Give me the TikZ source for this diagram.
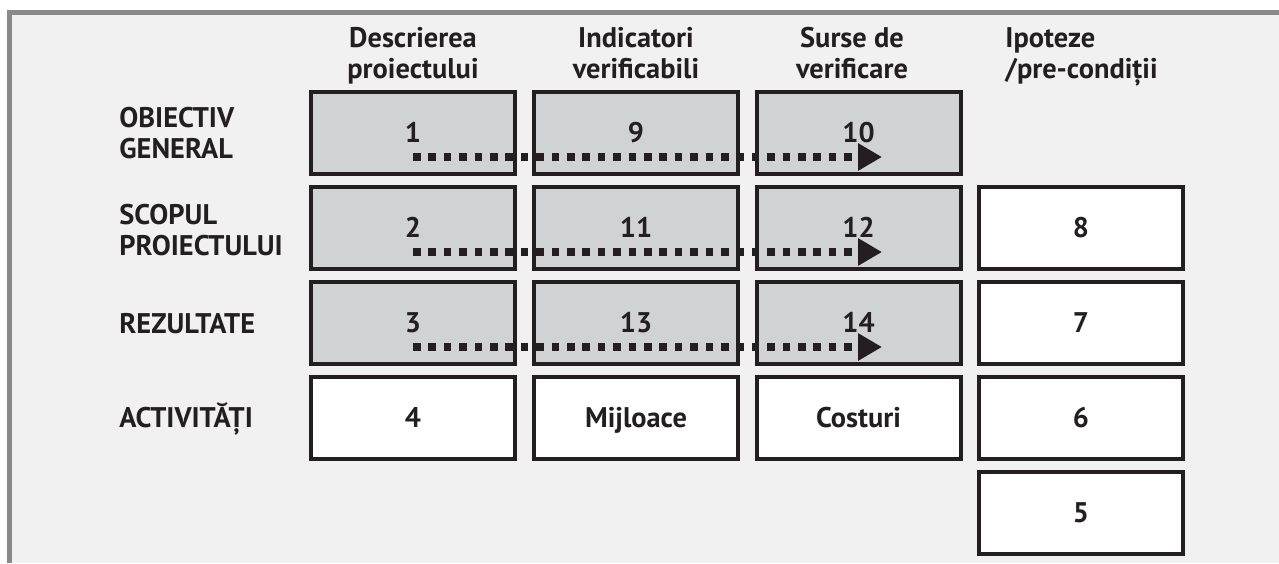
\documentclass[tikz,border=0pt]{standalone}
\usepackage{fontspec}
\setmainfont{PT Sans}
\usetikzlibrary{arrows.meta}
\definecolor{ink}{HTML}{231F20}
\definecolor{cellgray}{HTML}{D1D2D4}
\definecolor{panel}{HTML}{F1F1F1}
\definecolor{rim}{HTML}{898989}
\newcommand{\lfafont}{\fontsize{14.2}{15.5}\selectfont\bfseries}

\begin{document}
\begin{tikzpicture}[x=0.5pt,y=-0.5pt,
        cell/.style={draw=ink,line width=2pt,minimum width=102pt,minimum height=41pt,inner sep=0pt,
            text=ink,font=\lfafont,text height=9.9pt,text depth=0pt},
        graycell/.style={cell,fill=cellgray},
        whitecell/.style={cell,fill=white},
        rowlabel/.style={align=left,text=ink,inner sep=0pt,font=\lfafont},
        head/.style={anchor=north,text=ink,inner sep=0pt,font=\lfafont},
        flow/.style={ink,line width=3.8pt,dash pattern=on 3.8pt off 3.9pt,-{Triangle[length=12pt,width=13pt]}}]
        \useasboundingbox (0,0) rectangle (1279,563);
        % background panel
        \fill[white] (0,0) rectangle (1279,563);
        \fill[panel] (9.5,12.5) rectangle (1279,563);
        \draw[rim,line width=2.5pt] (9.5,563) -- (9.5,12.5) -- (1279,12.5);
        % column heads
        \node[head,align=center] (hdesc) at (413,27) {Descrierea\\proiectului};
        \node[head,align=center] (hind) at (636,27) {Indicatori\\verificabili};
        \node[head,align=center] (hsrc) at (852,27) {Surse de\\verificare};
        \node[head,align=left,anchor=north west] (hipo) at (1005,27) {Ipoteze\\/pre-condiții};
        % row labels
        \node[rowlabel,anchor=north west] (robj) at (119,107) {OBIECTIV\\GENERAL};
        \node[rowlabel,anchor=north west] (rscop) at (119,204) {SCOPUL\\PROIECTULUI};
        \node[rowlabel,anchor=base west] (rrez) at (119,333) {REZULTATE};
        \node[rowlabel,anchor=base west] (ract) at (119,427) {ACTIVITĂȚI};
        % grid
        \node[graycell] (b1) at (413,133) {1};
        \node[graycell] (b9) at (636,133) {9};
        \node[graycell] (b10) at (858.5,133) {10};
        \node[graycell] (b2) at (413,228) {2};
        \node[graycell] (b11) at (636,228) {11};
        \node[graycell] (b12) at (858.5,228) {12};
        \node[whitecell] (b8) at (1081,228) {8};
        \node[graycell] (b3) at (413,323) {3};
        \node[graycell] (b13) at (636,323) {13};
        \node[graycell] (b14) at (858.5,323) {14};
        \node[whitecell] (b7) at (1081,323) {7};
        \node[whitecell] (b4) at (413,418) {4};
        \node[whitecell] (bmij) at (636,418) {Mijloace};
        \node[whitecell] (bcost) at (858.5,418) {Costuri};
        \node[whitecell] (b6) at (1081,418) {6};
        \node[whitecell] (b5) at (1081,513) {5};
        % logic arrows
        \draw[flow] ([yshift=-12pt]b1.center) -- ([xshift=11.75pt,yshift=-12pt]b10.center);
        \draw[flow] ([yshift=-12pt]b2.center) -- ([xshift=11.75pt,yshift=-12pt]b12.center);
        \draw[flow] ([yshift=-12pt]b3.center) -- ([xshift=11.75pt,yshift=-12pt]b14.center);
    \end{tikzpicture}
\end{document}
